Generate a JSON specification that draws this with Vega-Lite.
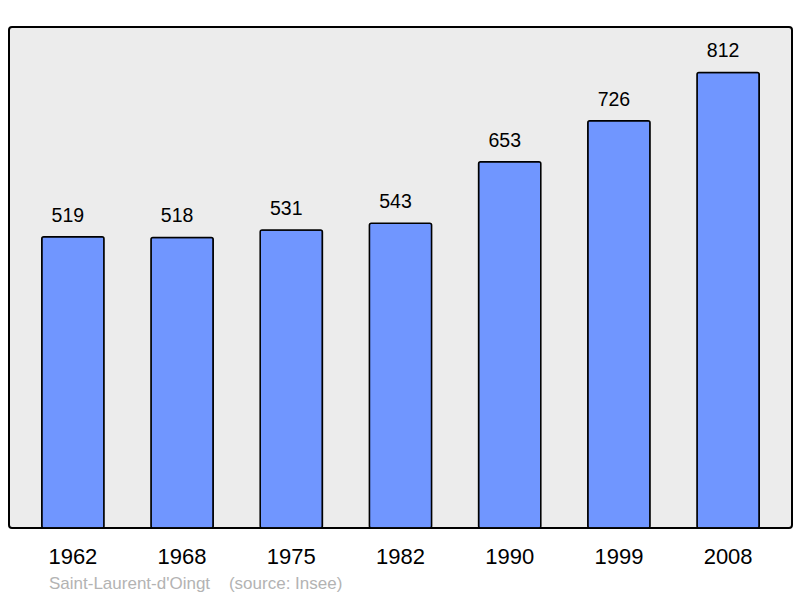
{
  "$schema": "https://vega.github.io/schema/vega-lite/v6.json",
  "width": 783,
  "height": 501,
  "autosize": {"type": "none"},
  "padding": {"left": 9, "top": 27, "right": 8, "bottom": 70},
  "background": "white",
  "config": {
    "view": {"fill": "#ececec", "stroke": "#000000", "strokeWidth": 2, "cornerRadius": 3},
    "font": "Liberation Sans"
  },
  "title": {
    "text": "Saint-Laurent-d'Oingt\u00a0\u00a0\u00a0\u00a0(source: Insee)",
    "orient": "bottom",
    "anchor": "start",
    "dx": 40,
    "offset": 9,
    "fontSize": 17,
    "fontWeight": "normal",
    "color": "#b3b3b3",
    "font": "Liberation Sans"
  },
  "data": {
    "values": [
      {"year": "1962", "pop": 519},
      {"year": "1968", "pop": 518},
      {"year": "1975", "pop": 531},
      {"year": "1982", "pop": 543},
      {"year": "1990", "pop": 653},
      {"year": "1999", "pop": 726},
      {"year": "2008", "pop": 812}
    ]
  },
  "encoding": {
    "x": {
      "field": "year",
      "type": "nominal",
      "sort": null,
      "scale": {"paddingInner": 0.43, "paddingOuter": 0.3},
      "axis": {
        "title": null,
        "domain": false,
        "ticks": false,
        "labelAngle": 0,
        "labelFontSize": 22,
        "labelColor": "#000000",
        "labelPadding": 18,
        "labelFont": "Liberation Sans"
      }
    },
    "y": {
      "field": "pop",
      "type": "quantitative",
      "scale": {"domain": [0, 893], "nice": false},
      "axis": null
    }
  },
  "layer": [
    {
      "mark": {"type": "bar", "fill": "#7096ff", "stroke": "#000000", "strokeWidth": 1.5, "cornerRadius": 2}
    },
    {
      "mark": {"type": "text", "baseline": "alphabetic", "dy": -15, "dx": -5, "fontSize": 19.5, "color": "#000000", "font": "Liberation Sans"},
      "encoding": {"text": {"field": "pop", "type": "quantitative"}}
    }
  ]
}
